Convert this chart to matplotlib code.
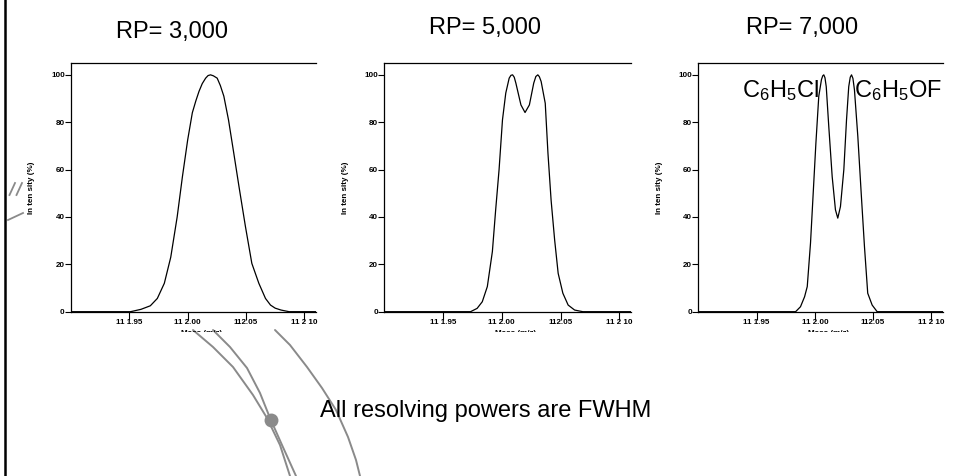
import numpy as np
import matplotlib
matplotlib.use('agg')
import matplotlib.pyplot as plt
from matplotlib.transforms import Bbox, TransformedBbox

plt.rcParams['font.family'] = ['Liberation Sans', 'DejaVu Sans']
plt.rcParams['mathtext.fontset'] = 'custom'
plt.rcParams['mathtext.rm'] = 'Liberation Sans'
plt.rcParams['mathtext.it'] = 'Liberation Sans'
plt.rcParams['mathtext.default'] = 'regular'

# --- data (m/z, intensity %) ---
mz_3000 = [111.90, 111.951, 111.960, 111.968, 111.974, 111.980, 111.9855, 111.991, 111.9955, 112.000,
           112.004, 112.007, 112.0097, 112.0125, 112.0154, 112.0175, 112.0196, 112.022, 112.0253,
           112.028, 112.031, 112.035, 112.0395, 112.044, 112.0495, 112.055, 112.061, 112.0667,
           112.071, 112.075, 112.080, 112.087, 112.11]
int_3000 = [0, 0, 1.0, 2.5, 5.6, 12, 23, 40, 57, 72.5,
            84, 89, 93, 96.3, 98.6, 99.7, 100, 99.6, 98.6,
            95.5, 91, 81, 67, 52.8, 36, 20.4, 12, 5.6,
            2.8, 1.5, 0.7, 0, 0]

mz_5000 = [111.90, 111.9734, 111.979, 111.9834, 111.9877, 111.992, 111.9948, 111.9977, 112.0006,
           112.0034, 112.0063, 112.0078, 112.0092, 112.0106, 112.012, 112.0163, 112.0198, 112.0235,
           112.0272, 112.029, 112.0307, 112.032, 112.0335, 112.037, 112.0393, 112.042, 112.045,
           112.048, 112.052, 112.0565, 112.062, 112.069, 112.11]
int_5000 = [0, 0, 1.4, 4.2, 10.6, 25.4, 43, 60, 81,
            92.3, 98.6, 99.8, 100, 99, 96.5, 87.3, 84.1, 87.3,
            96.5, 99.3, 100, 99.2, 97.2, 88, 67, 47, 30.3,
            16.2, 7.8, 2.8, 0.7, 0, 0]

mz_7000 = [111.90, 111.9835, 111.9877, 111.9912, 111.9935, 111.9963, 111.9986, 112.0009, 112.0034,
           112.0057, 112.0068, 112.0077, 112.0087, 112.0098, 112.012, 112.0149, 112.0177, 112.0197,
           112.022, 112.0249, 112.0272, 112.0291, 112.0304, 112.0315, 112.0327, 112.034, 112.0369,
           112.0398, 112.0426, 112.0454, 112.0492, 112.0535, 112.11]
int_7000 = [0, 0, 2.1, 6.3, 10.6, 29, 50, 71, 91,
            98, 99.6, 100, 98.8, 95, 78, 57, 43, 39.5,
            44.4, 60, 81, 95, 99, 100, 98.5, 93.7, 74,
            50, 27.5, 7.8, 2.8, 0, 0]

titles = ['RP= 3,000', 'RP= 5,000', 'RP= 7,000']
xtick_vals = [111.95, 112.00, 112.05, 112.10]
xtick_labels = ['11 1.95', '11 2.00', '112.05', '11 2 10']
ytick_vals = [0, 20, 40, 60, 80, 100]

W, H = 959, 476
fig = plt.figure(figsize=(W / 100, H / 100), dpi=100)

# axes boxes in pixels: left, right
boxes = [(71, 316), (384.3, 631), (698.3, 943)]
top_px, bot_px = 63, 311.7
title_pos = [(172, 37.7), (485, 34), (802, 34)]

series = [(mz_3000, int_3000), (mz_5000, int_5000), (mz_7000, int_7000)]

# decoration overlay (slide background arcs)
deco = fig.add_axes([0, 0, 1, 1], zorder=0)
deco.set_xlim(0, W)
deco.set_ylim(H, 0)
deco.axis('off')
arc_a = [(193, 330), (213, 347), (233, 367), (253, 395), (267, 418), (280, 445), (290, 476)]
arc_b = [(213, 330), (230, 347), (247, 368), (260, 393), (270, 418), (282, 445), (296, 476)]
arc_c = [(275, 330), (290, 345), (307, 367), (322, 388), (336, 410), (348, 437), (356, 460), (360, 476)]
for arc in (arc_a, arc_b, arc_c):
    xs, ys = zip(*arc)
    deco.plot(xs, ys, color='#8a8a8a', lw=1.4, solid_capstyle='round')
deco.plot([270.5], [420], 'o', color='#8a8a8a', ms=10, mec='none')
for seg in [((9.5, 195), (15, 183)), ((16.5, 195), (22, 183)), ((8, 220), (23, 213))]:
    (x0, y0), (x1, y1) = seg
    deco.plot([x0, x1], [y0, y1], color='#8a8a8a', lw=1.3)
deco.plot([4.5, 4.5], [0, H], color='black', lw=1.8)

deco.text(320, 416.7, 'All resolving powers are FWHM', fontsize=17, ha='left', va='baseline')

clip = TransformedBbox(Bbox([[0, 1 - 331.5 / H], [1, 1]]), fig.transFigure)

for i, ((l, r), (mz, inten)) in enumerate(zip(boxes, series)):
    ax = fig.add_axes([l / W, 1 - bot_px / H, (r - l) / W, (bot_px - top_px) / H], zorder=1)
    ax.plot(mz, inten, color='black', lw=0.9)
    ax.set_xlim(111.90, 112.11)
    ax.set_ylim(0, 105)
    ax.spines['right'].set_visible(False)
    for s in ['left', 'top', 'bottom']:
        ax.spines[s].set_linewidth(0.9)
    ax.set_xticks(xtick_vals)
    ax.set_xticklabels(xtick_labels, fontsize=5.8, fontweight='bold')
    ax.set_yticks(ytick_vals)
    ax.set_yticklabels([str(v) for v in ytick_vals], fontsize=5.8, fontweight='bold')
    ax.tick_params(axis='x', length=6, width=0.8, pad=-0.5)
    ax.tick_params(axis='y', length=4, width=0.8, pad=0.5)
    ax.set_ylabel('In ten sity (%)', fontsize=5.8, fontweight='bold')
    ax.yaxis.set_label_coords(-0.145, 0.5)
    xl = ax.set_xlabel('Mass (m/z)', fontsize=5.8, fontweight='bold')
    ax.xaxis.set_label_coords(0.533, -0.073)
    xl.set_clip_box(clip)
    xl.set_clip_on(True)
    tx, ty = title_pos[i]
    fig.text(tx / W, 1 - ty / H, titles[i], fontsize=17, ha='center', va='baseline')

ax.text(0.177, 0.8645, 'C$_6$H$_5$Cl', transform=ax.transAxes, fontsize=17, ha='left', va='baseline')
ax.text(0.636, 0.8645, 'C$_6$H$_5$OF', transform=ax.transAxes, fontsize=17, ha='left', va='baseline')

fig.savefig('out.png', dpi=100)
